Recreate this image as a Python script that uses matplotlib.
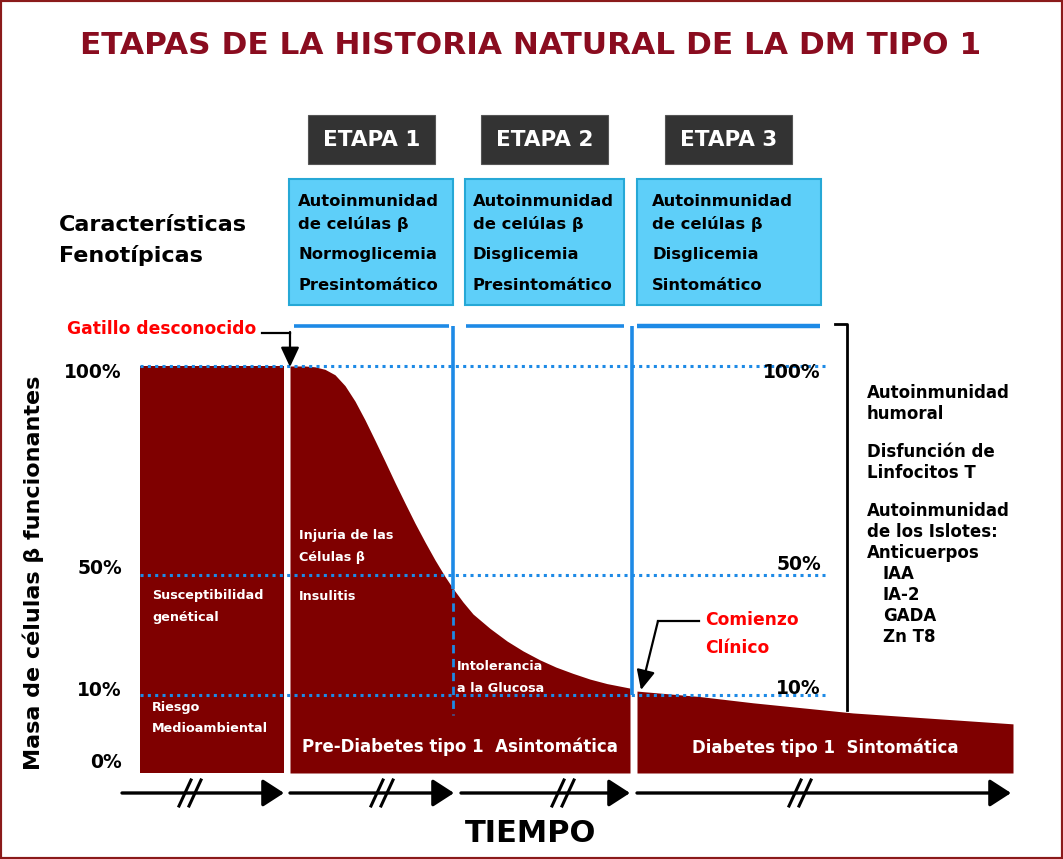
import numpy as np
import matplotlib
matplotlib.use('Agg')
import matplotlib.pyplot as plt
from matplotlib.patches import Rectangle

plt.rcParams['font.family'] = ['DejaVu Sans']
plt.rcParams['font.weight'] = 'bold'

W, H, DPI = 1063, 859, 100

# ---------------- data ----------------
title = "ETAPAS DE LA HISTORIA NATURAL DE LA DM TIPO 1"
stage_labels = ["ETAPA 1", "ETAPA 2", "ETAPA 3"]
stage_line1 = ["Autoinmunidad", "Autoinmunidad", "Autoinmunidad"]
stage_line2 = ["de celúlas β", "de celúlas β", "de celúlas β"]
stage_line3 = ["Normoglicemia", "Disglicemia", "Disglicemia"]
stage_line4 = ["Presintomático", "Presintomático", "Sintomático"]
pct_ticks = [100, 50, 10, 0]
pct_tick_labels = ["100%", "50%", "10%", "0%"]
right_ticks = [100, 50, 10]
right_tick_labels = ["100%", "50%", "10%"]
immune_lines = ["Autoinmunidad", "humoral", "", "Disfunción de", "Linfocitos T", "",
                "Autoinmunidad", "de los Islotes:", "Anticuerpos"]
antibodies = ["IAA", "IA-2", "GADA", "Zn T8"]

# beta-cell mass (%) over time (time in arbitrary units along the axis)
time_susc = [140, 284]
mass_susc = [100, 100]
time_pre = [290, 305, 315, 325, 335, 345, 355, 365, 375, 385, 395, 405, 415, 425,
            435, 445, 453, 463, 473, 490, 507, 523, 540, 556, 573, 590, 607, 630]
mass_pre = [100, 100, 99.8, 99.2, 97.9, 95.3, 91.6, 87.1, 82.2, 77.2, 72.1, 67.2,
            62.4, 57.9, 53.6, 49.5, 45.5, 41.0, 37.0, 32.2, 28.0, 24.7, 21.7, 19.3,
            17.2, 15.3, 13.8, 12.3]
time_dm = [637, 700, 753, 853, 1013]
mass_dm = [11.3, 9.8, 9.0, 7.7, 6.3]

# ---------------- styles ----------------
MAROON = '#7f0000'
BLUE = '#1d8ae6'
LBLUE = '#5ecff9'
LBLUE_EDGE = '#26a8d6'
DARK = '#333333'
TITLE_C = '#8a0c1f'
RED = '#ff0000'

fig = plt.figure(figsize=(W / DPI, H / DPI), dpi=DPI)
fig.patch.set_facecolor('white')

# chart axes (x: time, y: % with non-linear piecewise scale)
x0, x1, ytop, ybot = 140, 1013, 366, 773
chart = fig.add_axes([x0 / W, (H - ybot) / H, (x1 - x0) / W, (ybot - ytop) / H])
pp = [0, 10, 50, 100]
px = [0, 78, 198, 407]
fwd = lambda v: np.interp(v, pp, px)
inv = lambda v: np.interp(v, px, pp)
chart.set_yscale('function', functions=(fwd, inv))
chart.set_xlim(x0, x1)
chart.set_ylim(0, 100)
chart.axis('off')
chart.set_zorder(1)

chart.fill_between(time_susc, 0, mass_susc, color=MAROON, lw=0, zorder=1)
chart.fill_between(time_pre, 0, mass_pre, color=MAROON, lw=0, zorder=1)
chart.fill_between(time_dm, 0, mass_dm, color=MAROON, lw=0, zorder=1)
chart.hlines(right_ticks, 140, 825, colors=BLUE, linestyles=(0, (1, 1.4)),
             lw=2.2, zorder=3, clip_on=False)

# overlay axes in pixel coordinates for the layout
ov = fig.add_axes([0, 0, 1, 1])
ov.set_xlim(0, W)
ov.set_ylim(H, 0)
ov.axis('off')
ov.set_zorder(2)
ov.patch.set_alpha(0)


def pix(t, pct):
    d = chart.transData.transform((t, pct))
    return ov.transData.inverted().transform(d)


# title
ov.text(531, 45, title, ha='center', va='center', fontsize=22.4, color=TITLE_C)

# stage boxes
etapa_x = [308, 481, 665]
for ex, lab in zip(etapa_x, stage_labels):
    ov.add_patch(Rectangle((ex, 115), 127, 49, fc=DARK, ec='#555555', lw=0.8))
    ov.text(ex + 63.5, 140, lab, ha='center', va='center', color='white', fontsize=15.5)

box_x = [289, 465, 637]
box_w = [164, 159, 184]
text_x = [298, 473, 652]
for bx, bw, tx, l1, l2, l3, l4 in zip(box_x, box_w, text_x, stage_line1, stage_line2,
                                     stage_line3, stage_line4):
    ov.add_patch(Rectangle((bx, 179), bw, 126, fc=LBLUE, ec=LBLUE_EDGE, lw=1.5))
    for yy, s in zip([202, 224, 255, 285], [l1, l2, l3, l4]):
        ov.text(tx, yy, s, ha='left', va='center', fontsize=11.8, color='black')

ov.text(59, 225, "Características", ha='left', va='center', fontsize=16)
ov.text(59, 256, "Fenotípicas", ha='left', va='center', fontsize=16)

# top blue lines + vertical separators
ov.plot([294, 449], [326, 326], color=BLUE, lw=2.6, solid_capstyle='butt')
ov.plot([466, 624], [326, 326], color=BLUE, lw=2.6, solid_capstyle='butt')
ov.plot([637, 820], [326, 326], color=BLUE, lw=3.2, solid_capstyle='butt')
yc = pix(453, np.interp(453, time_pre, mass_pre))[1]
ov.plot([453, 453], [326, yc], color=BLUE, lw=2.6, solid_capstyle='butt')
ov.plot([453, 453], [yc, 715], color=BLUE, lw=2.0, ls=(0, (3, 2)))
y10 = pix(632, 10)[1]
ov.plot([632, 632], [326, y10], color=BLUE, lw=2.6, solid_capstyle='butt')

# bracket on the right
ov.plot([835, 847, 847], [324, 324, 710], color='black', lw=2.0)
yy = 393
for s in immune_lines:
    if s:
        ov.text(867, yy, s, ha='left', va='center', fontsize=12)
        yy += 21
    else:
        yy += 17
for s in antibodies:
    ov.text(883, yy, s, ha='left', va='center', fontsize=12)
    yy += 21

# tick labels
left_dy = [7, -7, -5, -10]
for p, lab, dy in zip(pct_ticks, pct_tick_labels, left_dy):
    ov.text(122, pix(200, p)[1] + dy, lab, ha='right', va='center', fontsize=13.5)
right_dy = [6, -10, -7]
for p, lab, dy in zip(right_ticks, right_tick_labels, right_dy):
    ov.text(821, pix(800, p)[1] + dy, lab, ha='right', va='center', fontsize=13.5)

ov.text(33, 573, "Masa de células β funcionantes", rotation=90, ha='center',
        va='center', fontsize=16)

# annotations
ov.text(67, 329, "Gatillo desconocido", ha='left', va='center', fontsize=12.3, color=RED)
ov.plot([262, 290], [333, 333], color='black', lw=1.6)
ov.annotate('', xy=(290, 367), xytext=(290, 332),
            arrowprops=dict(arrowstyle='-|>,head_length=0.6,head_width=0.28',
                            mutation_scale=20, lw=1.6, color='black',
                            shrinkA=0, shrinkB=0))
ov.text(705, 620, "Comienzo", ha='left', va='center', fontsize=12.3, color=RED)
ov.text(705, 648, "Clínico", ha='left', va='center', fontsize=12.3, color=RED)
ov.plot([699, 658], [621, 621], color='black', lw=1.6)
ov.annotate('', xy=(641, 690), xytext=(658, 621),
            arrowprops=dict(arrowstyle='-|>,head_length=0.6,head_width=0.28',
                            mutation_scale=20, lw=1.6, color='black',
                            shrinkA=0, shrinkB=0))

# white texts in the maroon area
white_txt = [("Susceptibilidad", 152, 596), ("genétical", 152, 618),
             ("Riesgo", 152, 707), ("Medioambiental", 152, 729),
             ("Injuria de las", 299, 536), ("Células β", 299, 558),
             ("Insulitis", 299, 596),
             ("Intolerancia", 457, 666), ("a la Glucosa", 457, 688)]
for s, tx, ty in white_txt:
    ov.text(tx, ty, s, ha='left', va='center', fontsize=9.2, color='white')
ov.text(460, 747, "Pre-Diabetes tipo 1  Asintomática", ha='center', va='center',
        fontsize=12, color='white')
ov.text(825, 748, "Diabetes tipo 1  Sintomática", ha='center', va='center',
        fontsize=12, color='white')

# time arrows
segments = [(122, 284), (290, 454), (461, 630), (637, 1011)]
breaks = [190, 382, 563, 800]
for (a, b), bx in zip(segments, breaks):
    ov.annotate('', xy=(b, 793), xytext=(a, 793),
                arrowprops=dict(arrowstyle='-|>,head_length=0.65,head_width=0.42',
                                mutation_scale=20, lw=2.4, color='black',
                                shrinkA=0, shrinkB=0))
    for dx in (-5, 5):
        ov.plot([bx + dx - 6, bx + dx + 6], [806, 780], color='black', lw=2.2)
ov.text(531, 833, "TIEMPO", ha='center', va='center', fontsize=22)

# frame
fig.add_artist(Rectangle((0, 0), 1, 1, transform=fig.transFigure, fill=False,
                         ec='#8b1a1a', lw=3))

fig.savefig('out.png', dpi=DPI)
